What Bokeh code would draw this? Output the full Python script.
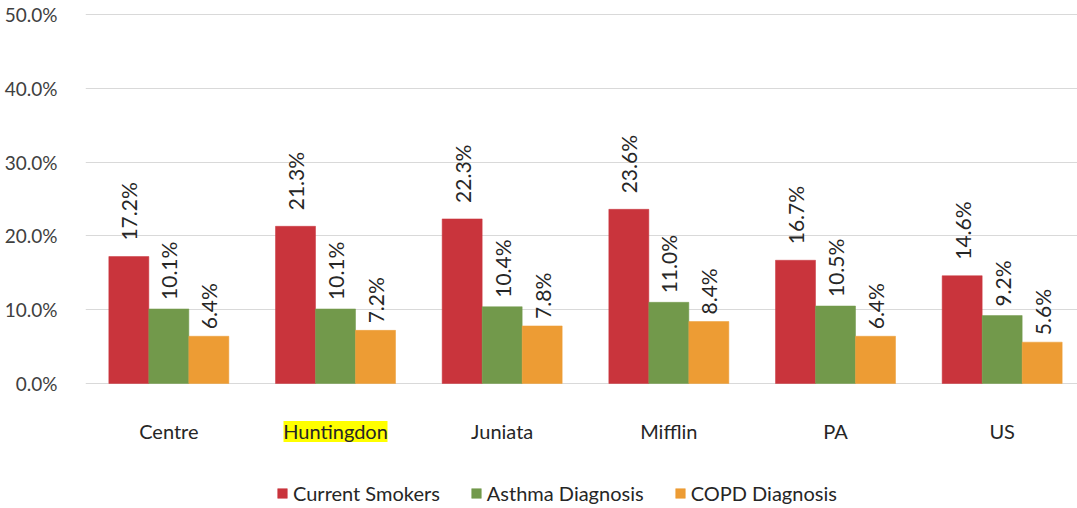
import math
from bokeh.plotting import figure
from bokeh.models import (ColumnDataSource, Range1d, FixedTicker, PrintfTickFormatter,
                          Legend, LegendItem)
from bokeh.core.properties import value
from bokeh.embed import file_html
from bokeh.resources import INLINE

categories = ["Centre", "Huntingdon", "Juniata", "Mifflin", "PA", "US"]
series_names = ["Current Smokers", "Asthma Diagnosis", "COPD Diagnosis"]
smokers = [17.2, 21.3, 22.3, 23.6, 16.7, 14.6]
asthma = [10.1, 10.1, 10.4, 11.0, 10.5, 9.2]
copd = [6.4, 7.2, 7.8, 8.4, 6.4, 5.6]
y_ticks = [0, 10, 20, 30, 40, 50]
highlight = "Huntingdon"

colors = ["#C9343C", "#72994B", "#ED9C34"]
label_offsets = [16, 9, 7]
FONT = "Lato"
PX_PER_UNIT = 7.38

p = figure(width=1077, height=508, output_backend="svg", toolbar_location=None,
           x_range=Range1d(0, 5.952), y_range=Range1d(-125 / PX_PER_UNIT, 50.27),
           min_border_left=85, min_border_right=0, min_border_top=12, min_border_bottom=0)
p.outline_line_color = None
p.background_fill_color = "white"

bar_w = 0.24
offsets = [-bar_w, 0, bar_w]
renderers = []
for vals, name, col, off, loff in zip([smokers, asthma, copd], series_names, colors, offsets, label_offsets):
    xs = [i + 0.5 + off for i in range(len(categories))]
    src = ColumnDataSource(dict(x=xs, top=vals, lab=[f"{v:.1f}%" for v in vals]))
    r = p.vbar(x="x", top="top", width=bar_w, bottom=0, source=src,
               fill_color=col, line_color=col, line_width=0.5)
    renderers.append(r)
    p.text(x="x", y="top", text="lab", source=src, angle=math.pi / 2,
           text_align="left", text_baseline="middle", x_offset=0, y_offset=-loff,
           text_font=value(FONT), text_font_size="21px", text_color="#262626")

# y axis
p.yaxis.ticker = FixedTicker(ticks=y_ticks)
p.yaxis.formatter = PrintfTickFormatter(format="%.1f%%")
p.yaxis.axis_line_color = None
p.yaxis.major_tick_line_color = None
p.yaxis.minor_tick_line_color = None
p.yaxis.major_label_standoff = 22
p.yaxis.major_label_text_font = FONT
p.yaxis.major_label_text_font_size = "19px"
p.yaxis.major_label_text_color = "#404040"

# hide x axis, draw category labels inside extended frame
p.xaxis.visible = False
p.xgrid.grid_line_color = None
p.ygrid.grid_line_color = "#D9D9D9"
p.ygrid.grid_line_width = 1

hi = categories.index(highlight)
cat_y = -48 / PX_PER_UNIT
p.rect(x=[hi + 0.5], y=[cat_y], width=104, height=21, width_units="screen", height_units="screen",
       fill_color="#FFFF00", line_color=None)
cat_src = ColumnDataSource(dict(x=[i + 0.5 for i in range(len(categories))],
                                y=[cat_y] * len(categories), t=categories))
p.text(x="x", y="y", text="t", source=cat_src, text_align="center", text_baseline="middle",
       text_font=value(FONT), text_font_size="20px", text_color="#262626")

legend = Legend(items=[LegendItem(label=n, renderers=[r]) for n, r in zip(series_names, renderers)],
                orientation="horizontal", location=(191, 3),
                glyph_width=12, glyph_height=12, label_standoff=5, spacing=30,
                padding=0, margin=0, border_line_color=None, background_fill_alpha=0,
                label_text_font=FONT, label_text_font_size="20px", label_text_color="#262626",
                label_height=14)
p.add_layout(legend, "center")

open("out.html", "w").write(file_html(p, INLINE))
